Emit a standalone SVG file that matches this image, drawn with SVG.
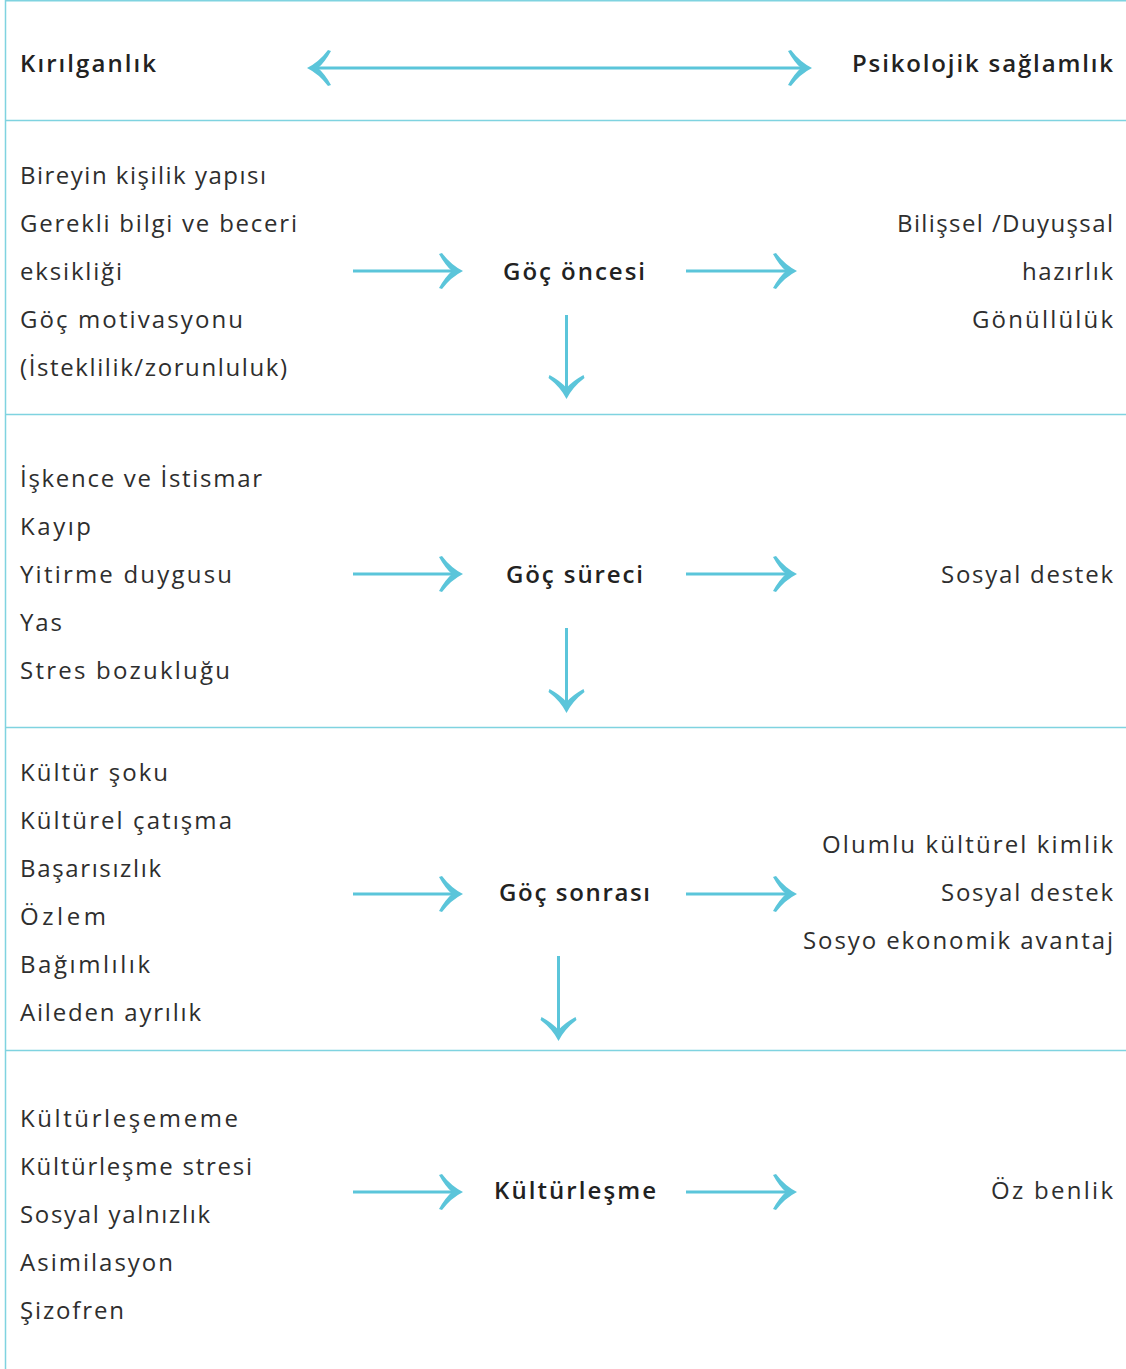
<svg xmlns="http://www.w3.org/2000/svg" width="1126" height="1369" viewBox="0 0 1126 1369">
<style>
.t{font-family:"Open Sans","Noto Sans","DejaVu Sans",sans-serif;font-size:24px;fill:#2e2e2e}
.b{font-weight:600;fill:#222}
.grid{stroke:#7fd3e0;stroke-width:1.5;fill:none}
.ar{stroke:#5bc5da;stroke-width:3;fill:none}
.hd{fill:#5bc5da}
</style>
<defs>
<path id="head" d="M0,0 Q-12,-6 -21,-18 L-24,-17 Q-18,-6 -11,0 Q-18,6 -24,17 L-21,18 Q-12,6 0,0 Z"/>
</defs>
<g id="grid">
<line class="grid" x1="5" y1="0.75" x2="1126" y2="0.75"/>
<line class="grid" x1="5.5" y1="0" x2="5.5" y2="1369"/>
<line class="grid" x1="5" y1="120.5" x2="1126" y2="120.5"/>
<line class="grid" x1="5" y1="414.5" x2="1126" y2="414.5"/>
<line class="grid" x1="5" y1="727.5" x2="1126" y2="727.5"/>
<line class="grid" x1="5" y1="1050.5" x2="1126" y2="1050.5"/>
</g>
<g id="header">
<text class="t b" x="20" y="72" textLength="136" lengthAdjust="spacing">Kırılganlık</text>
<text class="t b" x="852" y="72" textLength="261" lengthAdjust="spacing">Psikolojik sağlamlık</text>
</g>
<g id="row1-left">
<text class="t" x="20" y="184" textLength="246" lengthAdjust="spacing">Bireyin kişilik yapısı</text>
<text class="t" x="20" y="232" textLength="277" lengthAdjust="spacing">Gerekli bilgi ve beceri</text>
<text class="t" x="20" y="280" textLength="102" lengthAdjust="spacing">eksikliği</text>
<text class="t" x="20" y="328" textLength="223" lengthAdjust="spacing">Göç motivasyonu</text>
<text class="t" x="20" y="376" textLength="267" lengthAdjust="spacing">(İsteklilik/zorunluluk)</text>
</g>
<g id="node-goc-oncesi"><text class="t b" x="503" y="280" textLength="142" lengthAdjust="spacing">Göç öncesi</text></g>
<g id="row1-right">
<text class="t" x="897" y="232" textLength="216" lengthAdjust="spacing">Bilişsel /Duyuşsal</text>
<text class="t" x="1022" y="280" textLength="91" lengthAdjust="spacing">hazırlık</text>
<text class="t" x="972" y="328" textLength="141" lengthAdjust="spacing">Gönüllülük</text>
</g>
<g id="row2-left">
<text class="t" x="20" y="487" textLength="242" lengthAdjust="spacing">İşkence ve İstismar</text>
<text class="t" x="20" y="535" textLength="71" lengthAdjust="spacing">Kayıp</text>
<text class="t" x="20" y="583" textLength="212" lengthAdjust="spacing">Yitirme duygusu</text>
<text class="t" x="20" y="631" textLength="42" lengthAdjust="spacing">Yas</text>
<text class="t" x="20" y="679" textLength="210" lengthAdjust="spacing">Stres bozukluğu</text>
</g>
<g id="node-goc-sureci"><text class="t b" x="506" y="583" textLength="137" lengthAdjust="spacing">Göç süreci</text></g>
<g id="row2-right"><text class="t" x="941" y="583" textLength="172" lengthAdjust="spacing">Sosyal destek</text></g>
<g id="row3-left">
<text class="t" x="20" y="781" textLength="148" lengthAdjust="spacing">Kültür şoku</text>
<text class="t" x="20" y="829" textLength="212" lengthAdjust="spacing">Kültürel çatışma</text>
<text class="t" x="20" y="877" textLength="141" lengthAdjust="spacing">Başarısızlık</text>
<text class="t" x="20" y="925" textLength="86" lengthAdjust="spacing">Özlem</text>
<text class="t" x="20" y="973" textLength="130" lengthAdjust="spacing">Bağımlılık</text>
<text class="t" x="20" y="1021" textLength="181" lengthAdjust="spacing">Aileden ayrılık</text>
</g>
<g id="node-goc-sonrasi"><text class="t b" x="499" y="901" textLength="151" lengthAdjust="spacing">Göç sonrası</text></g>
<g id="row3-right">
<text class="t" x="822" y="853" textLength="291" lengthAdjust="spacing">Olumlu kültürel kimlik</text>
<text class="t" x="941" y="901" textLength="172" lengthAdjust="spacing">Sosyal destek</text>
<text class="t" x="803" y="949" textLength="310" lengthAdjust="spacing">Sosyo ekonomik avantaj</text>
</g>
<g id="row4-left">
<text class="t" x="20" y="1127" textLength="218" lengthAdjust="spacing">Kültürleşememe</text>
<text class="t" x="20" y="1175" textLength="232" lengthAdjust="spacing">Kültürleşme stresi</text>
<text class="t" x="20" y="1223" textLength="190" lengthAdjust="spacing">Sosyal yalnızlık</text>
<text class="t" x="20" y="1271" textLength="153" lengthAdjust="spacing">Asimilasyon</text>
<text class="t" x="20" y="1319" textLength="104" lengthAdjust="spacing">Şizofren</text>
</g>
<g id="node-kulturlesme"><text class="t b" x="494" y="1199" textLength="162" lengthAdjust="spacing">Kültürleşme</text></g>
<g id="row4-right"><text class="t" x="991" y="1199" textLength="122" lengthAdjust="spacing">Öz benlik</text></g>
<g id="connectors">
<line class="ar" x1="312" y1="68" x2="807" y2="68"/>
<use href="#head" class="hd" transform="translate(812,68)"/>
<use href="#head" class="hd" transform="translate(307,68) rotate(180)"/>
<line class="ar" x1="353" y1="271" x2="458" y2="271"/>
<use href="#head" class="hd" transform="translate(463,271)"/>
<line class="ar" x1="686" y1="271" x2="792" y2="271"/>
<use href="#head" class="hd" transform="translate(797,271)"/>
<line class="ar" x1="566.5" y1="315" x2="566.5" y2="394"/>
<use href="#head" class="hd" transform="translate(566.5,399) rotate(90)"/>
<line class="ar" x1="353" y1="574" x2="458" y2="574"/>
<use href="#head" class="hd" transform="translate(463,574)"/>
<line class="ar" x1="686" y1="574" x2="792" y2="574"/>
<use href="#head" class="hd" transform="translate(797,574)"/>
<line class="ar" x1="566.5" y1="628" x2="566.5" y2="708"/>
<use href="#head" class="hd" transform="translate(566.5,713) rotate(90)"/>
<line class="ar" x1="353" y1="894" x2="458" y2="894"/>
<use href="#head" class="hd" transform="translate(463,894)"/>
<line class="ar" x1="686" y1="894" x2="792" y2="894"/>
<use href="#head" class="hd" transform="translate(797,894)"/>
<line class="ar" x1="558.5" y1="956" x2="558.5" y2="1036"/>
<use href="#head" class="hd" transform="translate(558.5,1041) rotate(90)"/>
<line class="ar" x1="353" y1="1192" x2="458" y2="1192"/>
<use href="#head" class="hd" transform="translate(463,1192)"/>
<line class="ar" x1="686" y1="1192" x2="792" y2="1192"/>
<use href="#head" class="hd" transform="translate(797,1192)"/>
</g>
</svg>
